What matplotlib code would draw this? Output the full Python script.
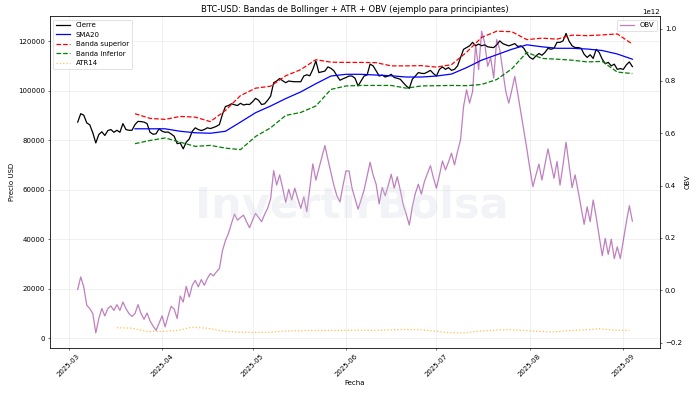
import matplotlib
matplotlib.use("Agg")
import matplotlib.pyplot as plt
import matplotlib.dates as mdates
import numpy as np
import pandas as pd

# ---------------- data ----------------
start_date = "2025-03-04"
close_k = [
    87.3, 90.7, 90.1, 87.0, 86.2, 83.0, 78.9, 82.3, 83.4, 81.9,
    83.9, 84.3, 83.2, 84.0, 83.2, 86.7, 84.3, 84.0, 84.0, 86.3,
    87.6, 87.5, 87.3, 86.7, 83.2, 82.4, 82.6, 84.6, 83.6, 83.2,
    83.3, 82.5, 81.6, 78.6, 78.9, 76.5, 79.2, 80.5, 83.6, 85.0,
    84.3, 83.9, 84.3, 85.0, 84.7, 85.1, 85.6, 86.3, 90.4, 93.6,
    94.0, 94.7, 94.3, 94.0, 94.9, 94.2, 94.5, 94.4, 95.5, 96.9,
    96.1, 94.4, 94.7, 96.1, 97.8, 103.2, 103.9, 104.9, 104.0, 103.2,
    103.9, 103.7, 103.6, 103.6, 103.6, 105.9, 106.4, 106.0, 108.6, 112.0,
    107.3, 107.6, 107.9, 109.6, 109.0, 108.0, 106.0, 104.2, 104.8, 105.3,
    105.9, 105.9, 105.0, 101.9, 103.9, 105.9, 106.3, 110.7, 110.0, 108.0,
    105.9, 106.3, 105.5, 105.9, 106.6, 105.3, 105.0, 104.6, 103.2, 101.9,
    100.9, 104.6, 105.9, 107.3, 107.0, 106.9, 107.5, 108.2, 106.9, 105.9,
    108.6, 109.6, 108.6, 109.3, 108.2, 108.6, 110.0, 113.4, 116.7, 117.4,
    118.1, 119.5, 118.1, 118.8, 118.1, 118.5, 117.7, 117.5, 117.4, 118.5,
    120.1, 119.0, 118.5, 118.1, 118.5, 119.0, 117.8, 118.1, 117.1, 115.0,
    113.4, 112.7, 114.0, 115.0, 114.3, 115.4, 117.1, 116.7, 117.1, 119.5,
    119.5, 120.1, 123.1, 120.0, 118.1, 117.4, 117.4, 117.1, 114.7, 113.4,
    114.5, 113.0, 116.7, 115.4, 112.7, 110.9, 111.4, 110.0, 110.7, 108.6,
    108.9, 108.6, 110.4, 111.6, 109.7,
]
obv_t = [
    0.003, 0.051, 0.013, -0.057, -0.070, -0.089, -0.163, -0.108, -0.070, -0.098,
    -0.070, -0.060, -0.077, -0.055, -0.077, -0.045, -0.070, -0.089, -0.100, -0.089,
    -0.055, -0.089, -0.111, -0.087, -0.117, -0.137, -0.153, -0.125, -0.098, -0.140,
    -0.098, -0.061, -0.072, -0.108, -0.022, -0.045, 0.015, -0.026, 0.019, 0.038,
    0.013, 0.041, 0.019, 0.045, 0.064, 0.055, 0.070, 0.083, 0.150, 0.190,
    0.217, 0.255, 0.291, 0.268, 0.278, 0.287, 0.262, 0.239, 0.268, 0.294,
    0.278, 0.262, 0.290, 0.313, 0.350, 0.457, 0.402, 0.441, 0.390, 0.336,
    0.386, 0.345, 0.390, 0.350, 0.313, 0.357, 0.300, 0.390, 0.483, 0.421,
    0.465, 0.510, 0.553, 0.500, 0.450, 0.400, 0.360, 0.338, 0.400, 0.456,
    0.456, 0.390, 0.350, 0.310, 0.345, 0.383, 0.436, 0.489, 0.440, 0.405,
    0.330, 0.393, 0.361, 0.400, 0.443, 0.390, 0.434, 0.383, 0.326, 0.290,
    0.249, 0.319, 0.370, 0.405, 0.367, 0.415, 0.445, 0.476, 0.430, 0.390,
    0.440, 0.494, 0.460, 0.490, 0.524, 0.479, 0.530, 0.575, 0.702, 0.766,
    0.715, 0.760, 0.939, 0.843, 0.990, 0.945, 0.856, 0.888, 0.811, 0.958,
    0.920, 0.840, 0.760, 0.715, 0.765, 0.817, 0.750, 0.680, 0.610, 0.540,
    0.465, 0.396, 0.440, 0.482, 0.421, 0.480, 0.540, 0.485, 0.428, 0.492,
    0.402, 0.480, 0.566, 0.480, 0.392, 0.441, 0.380, 0.315, 0.252, 0.319,
    0.262, 0.345, 0.280, 0.205, 0.132, 0.198, 0.137, 0.195, 0.121, 0.166,
    0.121, 0.190, 0.260, 0.323, 0.264,
]

band_start = "2025-03-23"
sma20_k = [84.6, 84.6, 84.6, 83.6, 83.0, 82.8, 83.6, 87.3, 91.1, 93.8,
           96.8, 99.5, 102.8, 105.9, 106.6, 106.6, 106.3, 106.0, 105.5, 105.5,
           105.9, 106.7, 109.3, 112.3, 114.5, 116.7, 118.5, 117.7, 117.1, 117.1,
           116.8, 116.2, 114.8, 112.7]
upper_k = [90.7, 88.8, 88.4, 89.6, 89.3, 87.5, 92.0, 98.0, 101.0, 101.8,
           106.0, 108.5, 112.5, 111.5, 111.4, 111.4, 111.3, 110.0, 110.0, 110.1,
           109.5, 110.5, 115.5, 121.5, 124.0, 123.8, 120.6, 121.2, 120.8, 122.4,
           122.2, 122.5, 122.9, 118.8]
lower_k = [78.6, 79.9, 80.9, 79.2, 77.5, 77.9, 76.8, 76.2, 81.5, 85.0,
           90.0, 91.2, 93.8, 100.5, 101.9, 102.1, 102.1, 102.1, 101.0, 101.9,
           102.0, 102.1, 102.0, 102.5, 104.5, 108.8, 115.5, 113.0, 112.7, 112.3,
           111.6, 111.8, 107.5, 106.9]

atr_start = "2025-03-17"
atr14_k = [4.3, 4.1, 2.8, 2.8, 3.2, 4.5, 4.1, 3.0, 2.5, 2.4,
           2.4, 2.9, 3.1, 3.2, 3.2, 3.2, 3.3, 3.2, 3.4, 3.6,
           3.5, 3.0, 2.3, 2.2, 2.9, 3.3, 3.5, 3.2, 2.8, 2.6,
           3.1, 3.4, 3.9, 3.3, 3.2]

title = "BTC-USD: Bandas de Bollinger + ATR + OBV (ejemplo para principiantes)"

# ---------------- plot ----------------
dates = pd.date_range(start_date, periods=len(close_k), freq="D")
band_dates = pd.date_range(band_start, periods=len(sma20_k), freq="5D")
atr_dates = pd.date_range(atr_start, periods=len(atr14_k), freq="5D")

DPI = 50
fig, ax = plt.subplots(figsize=(14, 7.86), dpi=DPI)
fig.subplots_adjust(left=0.0714, right=0.943, bottom=0.1145, top=0.959)

LW = 1.8
ax.plot(dates, np.array(close_k) * 1000, color="black", lw=LW, label="Cierre")
ax.plot(band_dates, np.array(sma20_k) * 1000, color="blue", lw=LW, label="SMA20")
ax.plot(band_dates, np.array(upper_k) * 1000, color="red", ls="--", lw=LW, label="Banda superior")
ax.plot(band_dates, np.array(lower_k) * 1000, color="green", ls="--", lw=LW, label="Banda inferior")
ax.plot(atr_dates, np.array(atr14_k) * 1000, color="orange", ls=":", lw=LW, alpha=0.7, label="ATR14")
ax.set_title(title)
ax.set_xlabel("Fecha")
ax.set_ylabel("Precio USD")
ax.grid(True, alpha=0.3)
ax.legend(loc="upper left")

ax2 = ax.twinx()
ax2.plot(dates, np.array(obv_t) * 1e12, color="purple", alpha=0.5, lw=LW, label="OBV")
ax2.set_ylabel("OBV")
ax2.legend(loc="upper right")

ax.xaxis.set_major_locator(mdates.MonthLocator())
ax.xaxis.set_major_formatter(mdates.DateFormatter("%Y-%m"))
plt.setp(ax.get_xticklabels(), rotation=45)

fig.text(0.503, 0.478, "InvertirBolsa", fontsize=62, fontweight="bold",
         color="#c9d3de", alpha=0.25, ha="center", va="center")

fig.savefig("out.png", dpi=DPI)
